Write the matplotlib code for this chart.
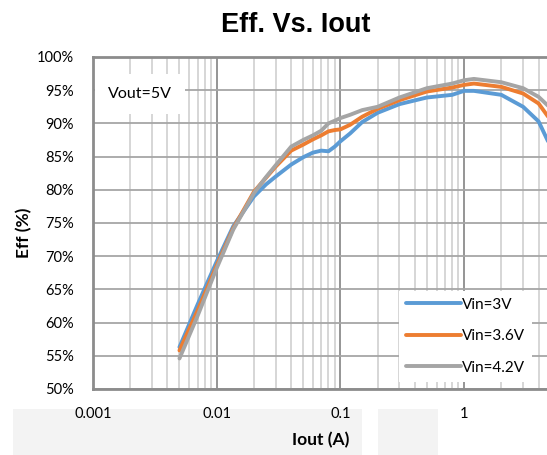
import matplotlib
matplotlib.use("Agg")
import matplotlib.pyplot as plt
from matplotlib.patches import Rectangle
from matplotlib.ticker import LogLocator, FixedLocator, PercentFormatter, FuncFormatter

# data (Iout in A, efficiency in %)
iout = [0.005, 0.007, 0.01, 0.0136, 0.02, 0.025, 0.03, 0.04, 0.05, 0.06, 0.07, 0.08,
        0.09, 0.1, 0.12, 0.15, 0.2, 0.3, 0.5, 0.8, 1.0, 1.2, 2, 3, 4, 5]
eff_3v = [56.3, 62.7, 69.2, 74.5, 79.0, 80.8, 82.0, 83.8, 84.9, 85.6, 85.9, 85.8,
          86.5, 87.3, 88.5, 90.2, 91.6, 92.9, 93.9, 94.3, 94.9, 94.9, 94.3, 92.5, 90.3, 86.5]
eff_36v = [55.8, 61.8, 68.6, 74.2, 79.7, 81.8, 83.5, 85.9, 86.8, 87.6, 88.2, 88.8,
           89.0, 89.1, 89.8, 91.0, 92.2, 93.5, 94.8, 95.4, 95.8, 96.0, 95.5, 94.5, 93.0, 90.5]
eff_42v = [54.6, 61.0, 68.2, 74.0, 79.5, 81.9, 83.7, 86.5, 87.5, 88.2, 88.9, 90.0,
           90.4, 90.8, 91.3, 92.0, 92.5, 93.9, 95.3, 96.0, 96.5, 96.7, 96.2, 95.3, 94.0, 92.3]
labels = ["Vin=3V", "Vin=3.6V", "Vin=4.2V"]
colors = ["#5B9BD5", "#ED7D31", "#A5A5A5"]
x_ticks = [0.001, 0.01, 0.1, 1]
y_ticks = list(range(50, 101, 5))

plt.rcParams["font.family"] = ["Lato", "DejaVu Sans"]

fig = plt.figure(figsize=(5.47, 4.55), dpi=100)

# light gray blocks behind the x labels, as in the screenshot
for x0, w in [(13, 349), (378, 60)]:
    fig.patches.append(Rectangle((x0 / 547, 0), w / 547, 46 / 455, transform=fig.transFigure,
                                 facecolor="#f3f3f3", edgecolor="none", zorder=-1))

ax = fig.add_axes([93 / 547, 1 - 389 / 455, (547 - 93) / 547, (389 - 57) / 455])
ax.set_facecolor("white")

for y, lab, c in zip([eff_3v, eff_36v, eff_42v], labels, colors):
    ax.plot(iout, y, color=c, lw=2.8, label=lab, solid_capstyle="round", zorder=3)

ax.set_xscale("log")
ax.set_xlim(0.001, 10 ** ((547 - 93) / 123.7 - 3))
ax.set_ylim(50, 100)

ax.xaxis.set_major_locator(FixedLocator(x_ticks))
ax.xaxis.set_minor_locator(LogLocator(base=10, subs=range(2, 10)))
ax.xaxis.set_major_formatter(FuncFormatter(lambda v, p: "{:g}".format(v)))
ax.xaxis.set_minor_formatter(FuncFormatter(lambda v, p: ""))
ax.yaxis.set_major_locator(FixedLocator(y_ticks))
ax.yaxis.set_major_formatter(PercentFormatter(decimals=0))

ax.grid(which="major", axis="x", color="#8c8c8c", lw=1.3)
ax.grid(which="minor", axis="x", color="#cccccc", lw=1.1)
ax.grid(which="major", axis="y", color="#a6a6a6", lw=1.3)
ax.set_axisbelow(True)

ax.tick_params(which="both", length=0, labelsize=10.5, colors="black")
ax.tick_params(axis="x", pad=13)
ax.tick_params(axis="y", pad=14)

for s in ["left", "bottom", "top"]:
    ax.spines[s].set_color("#8c8c8c")
    ax.spines[s].set_linewidth(2)
ax.spines["right"].set_visible(False)

ax.text(0.103, 0.888, "Vout=5V", transform=ax.transAxes, fontsize=11.5, ha="center", va="center",
        bbox=dict(boxstyle="square,pad=0.8", facecolor="white", edgecolor="none"), zorder=4)

leg = ax.legend(loc="upper left", bbox_to_anchor=(391 / 547, 1 - 283 / 455),
                bbox_transform=fig.transFigure, frameon=True, fancybox=False,
                fontsize=11, handlelength=3.6, handletextpad=0.12, labelspacing=1.15,
                borderpad=0.45)
leg.get_frame().set_facecolor("white")
leg.get_frame().set_edgecolor("none")
leg.get_frame().set_alpha(1)
leg.set_zorder(5)

fig.text(296 / 547, 1 - 25 / 455, "Eff. Vs. Iout", ha="center", va="center",
         fontsize=19.5, fontweight="bold", family=["Liberation Sans", "DejaVu Sans"])
fig.text(24 / 547, 1 - 233 / 455, "Eff (%)", rotation=90, ha="center", va="center",
         fontsize=12.5, fontweight="bold")
fig.text(321 / 547, 1 - 440 / 455, "Iout (A)", ha="center", va="center",
         fontsize=12.5, fontweight="bold")

fig.savefig("out.png", dpi=100)
